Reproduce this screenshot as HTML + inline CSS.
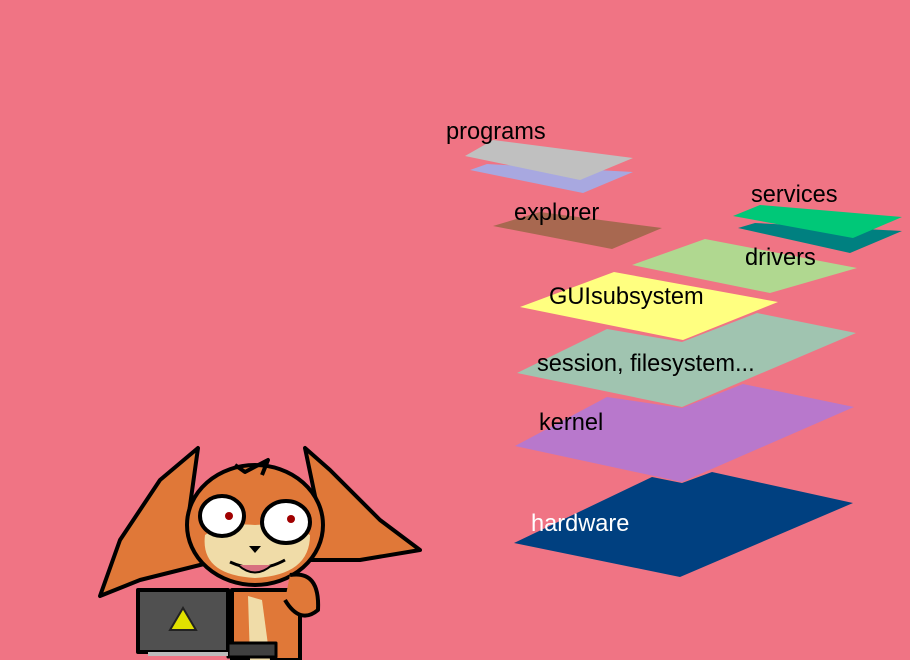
<!DOCTYPE html>
<html><head><meta charset="utf-8"><style>
html,body{margin:0;padding:0;background:#f07484;width:910px;height:660px;overflow:hidden}
svg{display:block}
text{font-family:"Liberation Sans",sans-serif;font-size:23.6px}
</style></head><body>
<svg width="910" height="660" viewBox="0 0 910 660">
<rect width="910" height="660" fill="#f07484"/>
<polygon points="514,543 652,477 682,483 712,472 853,503 680,577" fill="#004080"/>
<polygon points="515,446 607,397 682,408 743,384 854,407 682,482" fill="#b878cc"/>
<polygon points="517,373 607,329 682,342 757,313 856,333 682,407" fill="#a0c4b0"/>
<polygon points="520,307 614,272 778,302 683,340" fill="#ffff80"/>
<polygon points="632,265 705,239 857,268 770,293" fill="#b0d890"/>
<polygon points="493,226 540,212 662,228 612,249" fill="#a86850"/>
<polygon points="470,170 487,164 633,172 583,193" fill="#a8a8e0"/>
<polygon points="465,156 493,140 633,158 580,180" fill="#c0c0c0"/>
<polygon points="738,228 755,223 902,231 850,253" fill="#008080"/>
<polygon points="733,216 760,205 902,217 853,238" fill="#00c878"/>
<text x="446" y="139">programs</text>
<text x="514" y="220">explorer</text>
<text x="751" y="202">services</text>
<text x="745" y="265">drivers</text>
<text x="549" y="304">GUIsubsystem</text>
<text x="537" y="371">session, filesystem...</text>
<text x="539" y="430">kernel</text>
<text x="531" y="531" fill="#fff">hardware</text>
<g stroke="#000" stroke-width="4" stroke-linejoin="round">
<polygon points="198,448 188,520 220,560 140,580 100,596 120,540 160,480" fill="#e07838"/>
<polygon points="305,448 320,520 290,560 360,560 420,550 380,520 330,470" fill="#e07838"/>
<path d="M232,590 L232,660 L300,660 L300,590 Z" fill="#e07838"/>
<path d="M248,596 L262,600 L270,660 L250,660 Z" fill="#f0dca8" stroke="none"/>
<ellipse cx="255" cy="525" rx="68" ry="60" fill="#e07838"/>
<path d="M205,535 Q200,575 255,578 Q310,575 310,535 Q285,522 255,525 Q225,522 205,535 Z" fill="#f0dca8" stroke="none"/>
<ellipse cx="222" cy="516" rx="22" ry="20" fill="#fff"/>
<ellipse cx="286" cy="522" rx="24" ry="21" fill="#fff"/>
<path d="M235,465 L245,472 L268,460 L262,475" fill="none"/>
<path d="M230,562 Q258,575 285,560" fill="none" stroke-width="3"/>
<path d="M238,565 Q255,580 272,565" fill="#d87080" stroke-width="2"/>
<path d="M290,575 Q320,570 318,610 Q300,625 285,600" fill="#e07838"/>
<rect x="138" y="590" width="90" height="62" fill="#505050"/>
<rect x="228" y="643" width="48" height="14" fill="#404040" stroke-width="3"/>
</g>
<circle cx="229" cy="516" r="4" fill="#a00000"/>
<circle cx="291" cy="519" r="4" fill="#a00000"/>
<polygon points="249,546 261,546 255,553" fill="#000"/>
<polygon points="183,608 170,630 196,630" fill="#e0e000" stroke="#222" stroke-width="2"/>
<rect x="148" y="652" width="80" height="4" fill="#bbb"/>
</svg>
</body></html>
